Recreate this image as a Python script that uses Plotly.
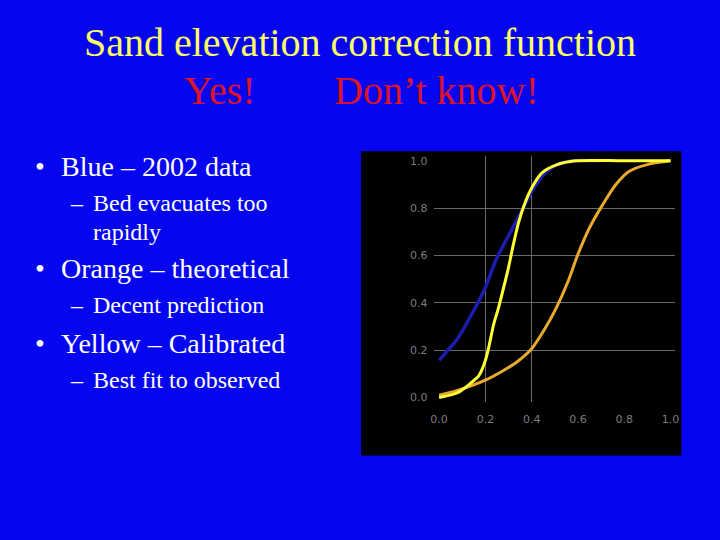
import plotly.graph_objects as go

# Data
blue_x = [0.0, 0.079, 0.157, 0.2, 0.25, 0.307, 0.364, 0.4, 0.45, 0.507, 0.58, 0.7]
blue_y = [0.157, 0.248, 0.381, 0.465, 0.59, 0.696, 0.80, 0.87, 0.94, 0.983, 1.0, 1.0]

yellow_x = [0.0, 0.08, 0.136, 0.17, 0.186, 0.2, 0.214, 0.236, 0.257, 0.279, 0.3, 0.321, 0.343, 0.371, 0.4, 0.443, 0.507, 0.59, 0.8, 1.0]
yellow_y = [0.0, 0.02, 0.06, 0.09, 0.12, 0.157, 0.21, 0.31, 0.38, 0.465, 0.55, 0.647, 0.738, 0.822, 0.885, 0.948, 0.983, 1.0, 1.0, 1.0]

orange_x = [0.0, 0.08, 0.2, 0.28, 0.336, 0.4, 0.457, 0.507, 0.557, 0.6, 0.65, 0.707, 0.764, 0.82, 0.907, 1.0]
orange_y = [0.01, 0.03, 0.073, 0.115, 0.15, 0.206, 0.29, 0.38, 0.49, 0.605, 0.717, 0.815, 0.9, 0.955, 0.986, 1.0]

tick_vals = [0.0, 0.2, 0.4, 0.6, 0.8, 1.0]
tick_text = ["0.0", "0.2", "0.4", "0.6", "0.8", "1.0"]
x_grid = [0.2, 0.4]
y_grid = [0.2, 0.4, 0.6, 0.8]

title_line = "Sand elevation correction function"
sub_left = "Yes!"
sub_right = "Don’t know!"
bullets = [
    ("main", "Blue – 2002 data", 166),
    ("sub", "Bed evacuates too", 203),
    ("cont", "rapidly", 232),
    ("main", "Orange – theoretical", 269),
    ("sub", "Decent prediction", 306),
    ("main", "Yellow – Calibrated", 344),
    ("sub", "Best fit to observed", 381),
]

W, H = 720, 540
BG = "#0505f0"
SERIF = "Liberation Serif, Times New Roman, serif"

fig = go.Figure()

# dummy trace to make grid axes render
fig.add_trace(go.Scatter(x=[None], y=[None], xaxis="x2", yaxis="y2", showlegend=False, hoverinfo="skip"))

fig.add_trace(go.Scatter(x=orange_x, y=orange_y, mode="lines", line=dict(color="#e8a92c", width=3, shape="spline", smoothing=0.8), showlegend=False))
fig.add_trace(go.Scatter(x=blue_x, y=blue_y, mode="lines", line=dict(color="#1c1cb0", width=3.5, shape="spline", smoothing=0.8), showlegend=False))
fig.add_trace(go.Scatter(x=yellow_x, y=yellow_y, mode="lines", line=dict(color="#ffff33", width=3, shape="spline", smoothing=0.8), showlegend=False))

# plot area pixel geometry
px_x0, px_x1 = 440.0, 674.0   # x=0 .. x=1
px_y0, px_y1 = 398.7, 160.7   # y=0 .. y=1
pad = 0.02
sx = px_x1 - px_x0
sy = px_y0 - px_y1
dx0 = (px_x0 - pad * sx) / W
dx1 = (px_x1 + pad * sx) / W
dy0 = (H - (px_y0 + pad * sy)) / H
dy1 = (H - (px_y1 - pad * sy)) / H
rng = [-pad, 1 + pad]

tickfont = dict(family="DejaVu Sans, sans-serif", size=11, color="#7c7c7c")

fig.update_layout(
    width=W, height=H,
    margin=dict(l=0, r=0, t=0, b=0),
    paper_bgcolor=BG,
    plot_bgcolor="rgba(0,0,0,0)",
    xaxis=dict(domain=[dx0, dx1], range=rng, tickvals=tick_vals, ticktext=tick_text,
               showgrid=False, zeroline=False, showline=False, ticks="",
               tickfont=tickfont, ticklabelstandoff=9, fixedrange=True),
    yaxis=dict(domain=[dy0, dy1], range=rng, tickvals=tick_vals, ticktext=tick_text,
               showgrid=False, zeroline=False, showline=False, ticks="",
               tickfont=tickfont, ticklabelstandoff=6, fixedrange=True),
    xaxis2=dict(domain=[dx0, dx1], range=rng, overlaying="x", tickvals=x_grid,
                showticklabels=False, showgrid=True, gridcolor="#6a6a6a", gridwidth=1,
                zeroline=False, showline=False, ticks="", anchor="y2", fixedrange=True),
    yaxis2=dict(domain=[dy0, dy1], range=rng, overlaying="y", tickvals=y_grid,
                showticklabels=False, showgrid=True, gridcolor="#6a6a6a", gridwidth=1,
                zeroline=False, showline=False, ticks="", anchor="x2", fixedrange=True),
    shapes=[dict(type="rect", xref="paper", yref="paper",
                 x0=361 / W, x1=685 / W, y0=(H - 457) / H, y1=(H - 151) / H,
                 fillcolor="black", line=dict(width=0), layer="below")],
)

ann = []
ann.append(dict(text=title_line, x=360 / W, y=1 - 42 / H, xref="paper", yref="paper",
                xanchor="center", yanchor="middle", showarrow=False,
                font=dict(family=SERIF, size=40, color="#ffff66")))
ann.append(dict(text=sub_left, x=180 / W, y=1 - 90 / H, xref="paper", yref="paper",
                xanchor="left", yanchor="middle", showarrow=False,
                font=dict(family=SERIF, size=40, color="#dc1428")))
ann.append(dict(text=sub_right, x=332 / W, y=1 - 90 / H, xref="paper", yref="paper",
                xanchor="left", yanchor="middle", showarrow=False,
                font=dict(family=SERIF, size=40, color="#dc1428")))

for kind, txt, ypx in bullets:
    yp = 1 - ypx / H
    if kind == "main":
        ann.append(dict(text="•", x=29 / W, y=yp, xref="paper", yref="paper", xanchor="left",
                        yanchor="middle", showarrow=False, font=dict(family=SERIF, size=28, color="white")))
        ann.append(dict(text=txt, x=56 / W, y=yp, xref="paper", yref="paper", xanchor="left",
                        yanchor="middle", showarrow=False, font=dict(family=SERIF, size=28, color="white")))
    elif kind == "sub":
        ann.append(dict(text="–", x=65 / W, y=yp, xref="paper", yref="paper", xanchor="left",
                        yanchor="middle", showarrow=False, font=dict(family=SERIF, size=24, color="white")))
        ann.append(dict(text=txt, x=88 / W, y=yp, xref="paper", yref="paper", xanchor="left",
                        yanchor="middle", showarrow=False, font=dict(family=SERIF, size=24, color="white")))
    else:
        ann.append(dict(text=txt, x=88 / W, y=yp, xref="paper", yref="paper", xanchor="left",
                        yanchor="middle", showarrow=False, font=dict(family=SERIF, size=24, color="white")))

fig.update_layout(annotations=ann)

fig.write_html("out.html", config={"displayModeBar": False},
               post_script="document.body.style.margin='0';")
